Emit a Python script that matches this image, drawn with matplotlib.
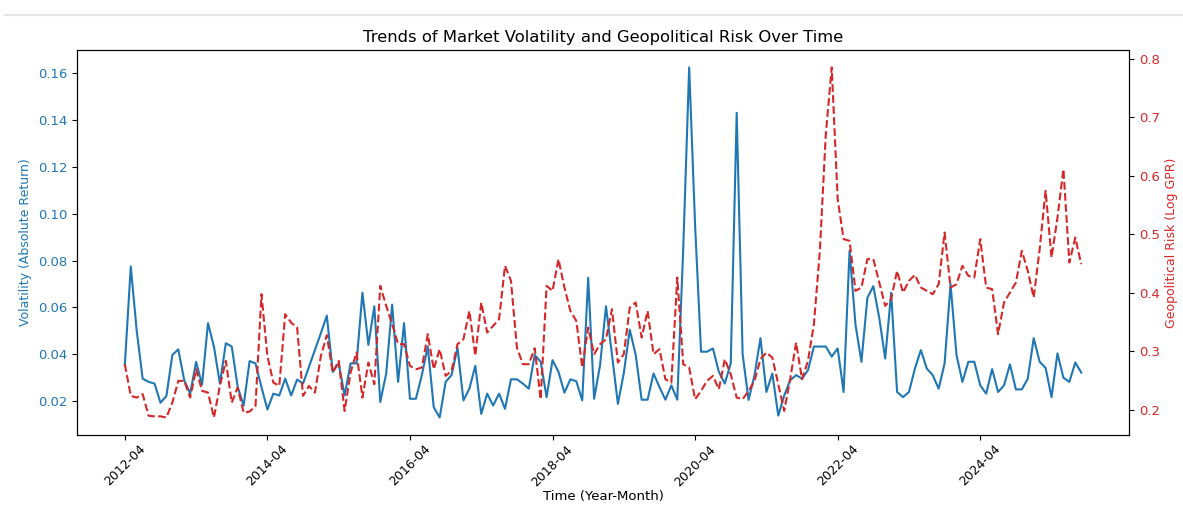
import matplotlib
matplotlib.use("Agg")
import matplotlib.pyplot as plt
import pandas as pd

# Monthly observations, April 2012 onwards
months = pd.period_range("2012-04", periods=162, freq="M").strftime("%Y-%m").tolist()

volatility = [
    0.0354, 0.0775, 0.0500, 0.0296, 0.0282, 0.0275, 0.0193, 0.0222, 0.0397, 0.0421,
    0.0289, 0.0232, 0.0368, 0.0270, 0.0533, 0.0433, 0.0275, 0.0447, 0.0433, 0.0260,
    0.0181, 0.0371, 0.0361, 0.0260, 0.0164, 0.0232, 0.0224, 0.0296, 0.0224, 0.0292,
    0.0275, 0.0347, 0.0418, 0.0490, 0.0565, 0.0325, 0.0361, 0.0224, 0.0361, 0.0361,
    0.0663, 0.0440, 0.0605, 0.0196, 0.0318, 0.0612, 0.0282, 0.0533, 0.0210, 0.0210,
    0.0311, 0.0433, 0.0174, 0.0130, 0.0282, 0.0311, 0.0428, 0.0203, 0.0253, 0.0351,
    0.0145, 0.0232, 0.0181, 0.0232, 0.0167, 0.0293, 0.0293, 0.0275, 0.0253, 0.0397,
    0.0368, 0.0217, 0.0375, 0.0325, 0.0236, 0.0293, 0.0285, 0.0203, 0.0727, 0.0210,
    0.0354, 0.0605, 0.0400, 0.0188, 0.0320, 0.0505, 0.0397, 0.0206, 0.0206, 0.0318,
    0.0260, 0.0206, 0.0267, 0.0206, 0.0850, 0.1625, 0.0950, 0.0411, 0.0411, 0.0425,
    0.0325, 0.0275, 0.0361, 0.1431, 0.0400, 0.0205, 0.0310, 0.0469, 0.0239, 0.0318,
    0.0138, 0.0224, 0.0289, 0.0311, 0.0296, 0.0332, 0.0433, 0.0433, 0.0433, 0.0390,
    0.0425, 0.0239, 0.0842, 0.0526, 0.0368, 0.0641, 0.0691, 0.0555, 0.0382, 0.0663,
    0.0239, 0.0217, 0.0239, 0.0339, 0.0418, 0.0339, 0.0311, 0.0253, 0.0361, 0.0700,
    0.0397, 0.0282, 0.0368, 0.0368, 0.0267, 0.0232, 0.0337, 0.0239, 0.0267, 0.0357,
    0.0250, 0.0250, 0.0296, 0.0469, 0.0368, 0.0342, 0.0217, 0.0404, 0.0300, 0.0282,
    0.0365, 0.0322,
]

log_gpr = [
    0.278, 0.224, 0.221, 0.227, 0.190, 0.189, 0.189, 0.187, 0.2125, 0.2496,
    0.2496, 0.221, 0.2695, 0.2325, 0.2296, 0.187, 0.241, 0.2838, 0.2125, 0.238,
    0.1954, 0.197, 0.207, 0.3977, 0.292, 0.2467, 0.241, 0.3635, 0.349, 0.3407,
    0.224, 0.241, 0.2296, 0.292, 0.3277, 0.2638, 0.2838, 0.1983, 0.2638, 0.298,
    0.221, 0.2809, 0.2439, 0.412, 0.3778, 0.3465, 0.3123, 0.3123, 0.2752, 0.2695,
    0.2724, 0.3294, 0.2695, 0.3037, 0.2581, 0.2667, 0.3123, 0.3208, 0.3692, 0.2923,
    0.3835, 0.3322, 0.3436, 0.355, 0.4462, 0.4205, 0.3066, 0.2781, 0.2781, 0.3054,
    0.2182, 0.412, 0.4034, 0.4576, 0.4091, 0.3692, 0.3521, 0.2724, 0.3407, 0.2952,
    0.3123, 0.3208, 0.3721, 0.2809, 0.2952, 0.3749, 0.3835, 0.3236, 0.3692, 0.2952,
    0.3037, 0.2524, 0.2467, 0.4262, 0.2781, 0.2724, 0.2182, 0.2325, 0.2496, 0.2581,
    0.2353, 0.2866, 0.261, 0.221, 0.2182, 0.2325, 0.2496, 0.2866, 0.298, 0.2894,
    0.2439, 0.1983, 0.2524, 0.315, 0.2524, 0.2838, 0.3465, 0.4718, 0.6713, 0.7852,
    0.5601, 0.4918, 0.4889, 0.4034, 0.4091, 0.4576, 0.4576, 0.4176, 0.3778, 0.3892,
    0.4376, 0.4005, 0.4205, 0.4308, 0.4091, 0.4034, 0.3977, 0.4148, 0.5031, 0.4091,
    0.4148, 0.4462, 0.4291, 0.4262, 0.4918, 0.4091, 0.4063, 0.3294, 0.3835, 0.4005,
    0.4176, 0.4718, 0.4376, 0.392, 0.4747, 0.5744, 0.4603, 0.5287, 0.6114, 0.4518,
    0.4945, 0.449,
]

tick_step = 24

fig = plt.figure(figsize=(11.83, 5.07), dpi=100)
fig.add_artist(plt.Line2D([0.004, 1.0], [0.970, 0.970], color="#e4e4e4", lw=1.6,
                          transform=fig.transFigure))
ax1 = fig.add_axes([0.0651, 0.142, 0.8893, 0.7595])

x = list(range(len(months)))
vol_color = "tab:blue"
gpr_color = "tab:red"

ax1.plot(x, volatility, color=vol_color, lw=1.5)
ax1.set_ylabel("Volatility (Absolute Return)", color=vol_color, fontsize=9)
ax1.tick_params(axis="y", labelcolor=vol_color, labelsize=9.5)
ax1.tick_params(axis="x", labelsize=9, pad=2)
ax1.set_xlabel("Time (Year-Month)", fontsize=9.5, labelpad=1)
ax1.set_xticks(x[::tick_step])
ax1.set_xticklabels(months[::tick_step], rotation=45)

ax2 = ax1.twinx()
ax2.plot(x, log_gpr, color=gpr_color, lw=1.5, linestyle="--")
ax2.set_ylabel("Geopolitical Risk (Log GPR)", color=gpr_color, fontsize=9)
ax2.tick_params(axis="y", labelcolor=gpr_color, labelsize=9.5)

ax1.set_title("Trends of Market Volatility and Geopolitical Risk Over Time", fontsize=11.8)

fig.savefig("out.png", dpi=100)
